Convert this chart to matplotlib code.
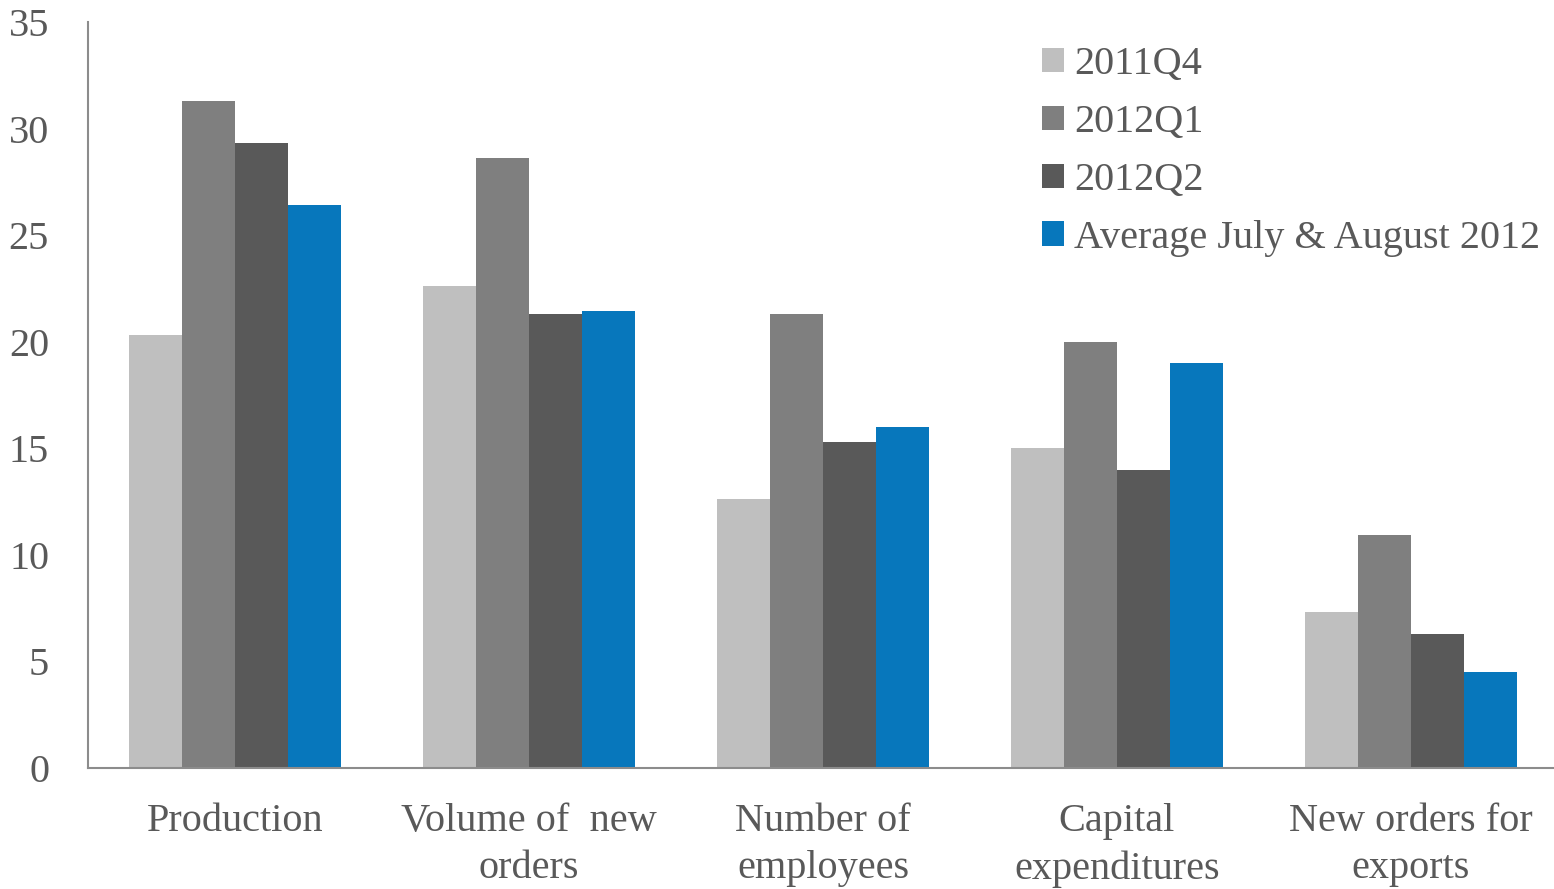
import matplotlib
matplotlib.use("Agg")
import matplotlib.pyplot as plt
from matplotlib import font_manager
import numpy as np

categories = ["Production", "Volume of  new\norders", "Number of\nemployees", "Capital\nexpenditures", "New orders for\nexports"]
series_names = ["2011Q4", "2012Q1", "2012Q2", "Average July & August 2012"]
s_2011q4 = [20.3, 22.6, 12.6, 15.0, 7.3]
s_2012q1 = [31.3, 28.6, 21.3, 20.0, 10.95]
s_2012q2 = [29.3, 21.3, 15.3, 14.0, 6.3]
s_avg = [26.4, 21.45, 16.0, 19.0, 4.5]
yticks = [0, 5, 10, 15, 20, 25, 30, 35]

colors = ["#BFBFBF", "#7F7F7F", "#595959", "#0777BC"]
txt = "#595959"
names = {f.name for f in font_manager.fontManager.ttflist}
serif = [n for n in ['Liberation Serif', 'DejaVu Serif'] if n in names]
plt.rcParams['font.family'] = 'serif'
plt.rcParams['font.serif'] = serif + ['DejaVu Serif']

fig = plt.figure(figsize=(15.54, 8.89), dpi=100)
ax = fig.add_axes([88/1554, 121/889, 1466/1554, 746/889])

x = np.arange(len(categories))
w = 0.181
data = [s_2011q4, s_2012q1, s_2012q2, s_avg]
for i, (vals, c, n) in enumerate(zip(data, colors, series_names)):
    ax.bar(x + (i - 1.5) * w, vals, w, color=c, label=n, linewidth=0)

ax.set_xlim(-0.5, -0.5 + 1466/294)
ax.set_ylim(0, 35)
ax.set_yticks(yticks)
ax.set_yticklabels([str(t) for t in yticks])
ax.set_xticks(x)
ax.set_xticklabels(categories, linespacing=1.38)
ax.tick_params(axis='both', length=0, labelsize=29, colors=txt)
ax.tick_params(axis='y', pad=28)
ax.tick_params(axis='x', pad=25)
for s in ['top', 'right']:
    ax.spines[s].set_visible(False)
for s in ['left', 'bottom']:
    ax.spines[s].set_color('#8C8C8C')
    ax.spines[s].set_linewidth(1.5)

leg = ax.legend(loc='upper left', bbox_to_anchor=(1042/1554, 1 - 46/889), bbox_transform=fig.transFigure,
                frameon=False, fontsize=29, handlelength=0.55, handleheight=0.55, handletextpad=0.25,
                labelspacing=0.52, borderpad=0, borderaxespad=0)
for t in leg.get_texts():
    t.set_color(txt)

fig.savefig("out.png", dpi=100)
